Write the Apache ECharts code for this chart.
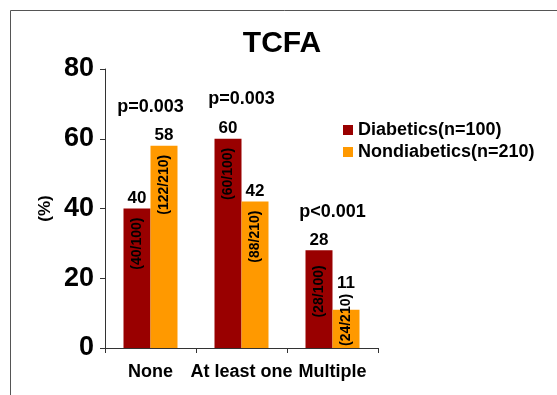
<!DOCTYPE html>
<html>
<head>
<meta charset="utf-8">
<script src="https://cdn.jsdelivr.net/npm/echarts@6/dist/echarts.min.js"></script>
<style>
  html, body { margin: 0; padding: 0; background: #fff; }
  #chart { width: 557px; height: 395px; }
</style>
</head>
<body>
<div id="chart"></div>
<script>
// TCFA prevalence by culprit/non-culprit count, diabetics vs nondiabetics
const categories = ['None', 'At least one', 'Multiple'];
const diabetics = [40, 60, 28];
const nondiabetics = [58, 42, 11];
const diabeticCounts = ['40/100', '60/100', '28/100'];
const nondiabeticCounts = ['122/210', '88/210', '24/210'];
const pValues = ['p=0.003', 'p=0.003', 'p<0.001'];
const pValueHeights = [69, 71.5, 39];
const yTicks = [0, 20, 40, 60, 80];

const RED = '#990000';
const ORANGE = '#FF9900';
const FONT = '"Liberation Sans", Arial, sans-serif';

const chart = echarts.init(document.getElementById('chart'));

function countLabel(counts) {
  return {
    show: true,
    position: 'insideTop',
    rotate: 90,
    align: 'right',
    verticalAlign: 'middle',
    distance: 9,
    fontFamily: FONT,
    fontWeight: 'bold',
    fontSize: 14,
    color: '#000',
    formatter: p => '(' + counts[p.dataIndex] + ')'
  };
}

const valueLabel = {
  show: true, position: 'top', distance: 2,
  fontFamily: FONT, fontWeight: 'bold', fontSize: 17, color: '#000'
};

// the short bar's value sits above its count text
const nondiabeticBars = nondiabetics.map((v, i) => i === 2 ? {
  value: v,
  label: { distance: 18 }
} : v);

// small bars hold their count text from the bottom up
const nondiabeticOverlay = nondiabetics.map((v, i) => i === 2 ? {
  value: v,
  label: { position: 'insideBottom', align: 'left', distance: 2 }
} : v);

const diabeticOverlay = diabetics.map((v, i) => i === 2 ? {
  value: v,
  label: { distance: 15 }
} : v);

chart.setOption({
  animation: false,
  title: {
    text: 'TCFA',
    left: 277,
    textAlign: 'center',
    top: 24,
    textStyle: { fontFamily: FONT, fontWeight: 'bold', fontSize: 30, color: '#000' }
  },
  legend: {
    data: ['Diabetics(n=100)', 'Nondiabetics(n=210)'],
    orient: 'vertical',
    left: 338,
    top: 116,
    itemWidth: 10,
    itemHeight: 10,
    itemGap: 4,
    icon: 'rect',
    textStyle: { fontFamily: FONT, fontWeight: 'bold', fontSize: 18, color: '#000' }
  },
  grid: { left: 105, right: 179, top: 69, bottom: 47 },
  graphic: [{
    type: 'rect',
    shape: { x: 10.5, y: 10.5, width: 700, height: 500 },
    style: { fill: null, stroke: '#555', lineWidth: 1 },
    silent: true,
    z: -1
  }],
  xAxis: [{
    type: 'category',
    data: categories,
    axisLine: { lineStyle: { color: '#333' } },
    axisTick: { show: true, length: 5, lineStyle: { color: '#333' } },
    axisLabel: {
      interval: 0,
      fontFamily: FONT, fontWeight: 'bold', fontSize: 18, color: '#000', margin: 15
    }
  }, {
    type: 'category',
    data: categories,
    show: false
  }],
  yAxis: {
    type: 'value',
    min: 0,
    max: 80,
    interval: 20,
    name: '(%)',
    nameLocation: 'middle',
    nameRotate: 90,
    nameGap: 51,
    nameTextStyle: { fontFamily: FONT, fontWeight: 'bold', fontSize: 17, color: '#000' },
    splitLine: { show: false },
    axisLine: { show: true, lineStyle: { color: '#333' } },
    axisTick: { show: true, length: 5, lineStyle: { color: '#333' } },
    axisLabel: {
      fontFamily: FONT, fontWeight: 'bold', fontSize: 27, color: '#000', margin: 11,
      formatter: v => yTicks.includes(v) ? String(v) : ''
    }
  },
  series: [{
    name: 'Diabetics(n=100)',
    type: 'bar',
    data: diabetics,
    barWidth: 27,
    barGap: '0%',
    itemStyle: { color: RED },
    label: valueLabel
  }, {
    name: 'Nondiabetics(n=210)',
    type: 'bar',
    data: nondiabeticBars,
    barWidth: 27,
    barGap: '0%',
    itemStyle: { color: ORANGE },
    label: valueLabel
  }, {
    name: 'diabeticCounts',
    type: 'bar',
    xAxisIndex: 1,
    data: diabeticOverlay,
    barWidth: 27,
    barGap: '0%',
    itemStyle: { color: 'rgba(0,0,0,0)' },
    label: countLabel(diabeticCounts),
    silent: true,
    z: 3
  }, {
    name: 'nondiabeticCounts',
    type: 'bar',
    xAxisIndex: 1,
    data: nondiabeticOverlay,
    barWidth: 27,
    barGap: '0%',
    itemStyle: { color: 'rgba(0,0,0,0)' },
    label: countLabel(nondiabeticCounts),
    silent: true,
    z: 3
  }, {
    name: 'pValues',
    type: 'scatter',
    symbolSize: 0,
    data: categories.map((c, i) => [c, pValueHeights[i]]),
    itemStyle: { opacity: 1 },
    label: {
      show: true,
      position: 'inside',
      opacity: 1,
      fontFamily: FONT, fontWeight: 'bold', fontSize: 18, color: '#000',
      formatter: p => pValues[p.dataIndex]
    },
    silent: true
  }]
});
</script>
</body>
</html>
